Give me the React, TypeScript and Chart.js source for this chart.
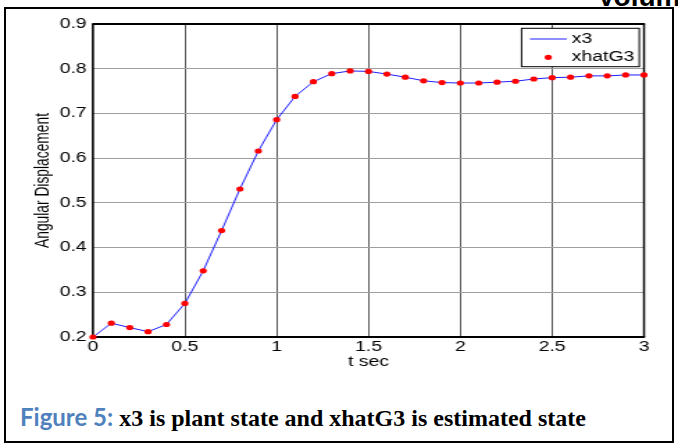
import React, { useEffect, useRef } from 'react';
import { Chart, registerables } from 'chart.js';

Chart.register(...registerables);

// ---- data ----
const timeSec = [0, 0.1, 0.2, 0.3, 0.4, 0.5, 0.6, 0.7, 0.8, 0.9, 1.0, 1.1, 1.2, 1.3, 1.4, 1.5, 1.6, 1.7, 1.8, 1.9, 2.0, 2.1, 2.2, 2.3, 2.4, 2.5, 2.6, 2.7, 2.8, 2.9, 3.0];
const x3Values = [0.200, 0.231, 0.221, 0.212, 0.228, 0.275, 0.348, 0.438, 0.531, 0.616, 0.686, 0.738, 0.771, 0.789, 0.795, 0.794, 0.788, 0.781, 0.773, 0.769, 0.768, 0.768, 0.770, 0.772, 0.777, 0.780, 0.781, 0.784, 0.784, 0.786, 0.786];
const xhatG3Values = [0.200, 0.231, 0.221, 0.212, 0.228, 0.275, 0.348, 0.438, 0.531, 0.616, 0.686, 0.738, 0.771, 0.789, 0.795, 0.794, 0.788, 0.781, 0.773, 0.769, 0.768, 0.768, 0.770, 0.772, 0.777, 0.780, 0.781, 0.784, 0.784, 0.786, 0.786];
const xTickValues = [0, 0.5, 1, 1.5, 2, 2.5, 3];
const xTickLabels = ['0', '0.5', '1', '1.5', '2', '2.5', '3'];
const yTickValues = [0.2, 0.3, 0.4, 0.5, 0.6, 0.7, 0.8, 0.9];
const yTickLabels = ['0.2', '0.3', '0.4', '0.5', '0.6', '0.7', '0.8', '0.9'];
const seriesNames = ['x3', 'xhatG3'];
const xTitle = 't sec';
const yTitle = 'Angular Displacement';

// ---- layout (the figure is stretched horizontally) ----
const K = 678 / 488;
const CW = 488;
const CH = 400;
const FONT = '"Liberation Sans", Arial, Helvetica, sans-serif';

const boxPlugin = {
  id: 'matlabBox',
  beforeDatasetsDraw(chart: any) {
    const { ctx, chartArea: a } = chart;
    ctx.save();
    ctx.strokeStyle = '#000';
    ctx.lineWidth = 2;
    ctx.beginPath();
    ctx.moveTo(a.left - 0.7, a.top);
    ctx.lineTo(a.right + 0.7, a.top);
    ctx.moveTo(a.left - 0.7, a.bottom);
    ctx.lineTo(a.right + 0.7, a.bottom);
    ctx.stroke();
    ctx.lineWidth = 1.45;
    ctx.beginPath();
    ctx.moveTo(a.left, a.top);
    ctx.lineTo(a.left, a.bottom);
    ctx.moveTo(a.right, a.top);
    ctx.lineTo(a.right, a.bottom);
    ctx.stroke();
    ctx.restore();
  },
  afterDraw(chart: any) {
    const { ctx, chartArea: a } = chart;
    const ds = chart.data.datasets;
    const right = a.right - 3.4;
    const left = right - 84.7;
    const top = a.top + 4.3;
    const h = 38.4;
    ctx.save();
    ctx.fillStyle = '#fff';
    ctx.fillRect(left, top, right - left, h);
    ctx.strokeStyle = '#000';
    ctx.lineWidth = 1;
    ctx.strokeRect(left, top, right - left, h);
    const rows = [top + 10.7, top + 29];
    ctx.font = `14px ${FONT}`;
    ctx.textBaseline = 'middle';
    ctx.textAlign = 'left';
    // row 1: line sample
    ctx.strokeStyle = ds[0].borderColor;
    ctx.lineWidth = 1;
    ctx.beginPath();
    ctx.moveTo(left + 6, rows[0]);
    ctx.lineTo(left + 32.5, rows[0]);
    ctx.stroke();
    ctx.fillStyle = '#000';
    ctx.fillText(ds[0].label, left + 36, rows[0]);
    // row 2: marker
    ctx.fillStyle = ds[1].pointBackgroundColor;
    ctx.beginPath();
    ctx.arc(left + 19.2, rows[1], ds[1].pointRadius, 0, Math.PI * 2);
    ctx.fill();
    ctx.fillStyle = '#000';
    ctx.fillText(ds[1].label, left + 36, rows[1]);
    ctx.restore();
  },
};

export default function App() {
  const ref = useRef<HTMLCanvasElement>(null);

  useEffect(() => {
    if (!ref.current) return;
    const chart = new Chart(ref.current, {
      type: 'line',
      data: {
        datasets: [
          {
            label: seriesNames[0],
            data: timeSec.map((t, i) => ({ x: t, y: x3Values[i] })),
            borderColor: 'rgb(30,30,255)',
            borderWidth: 1,
            pointRadius: 0,
            fill: false,
            tension: 0,
            clip: false as any,
            order: 1,
          },
          {
            label: seriesNames[1],
            data: timeSec.map((t, i) => ({ x: t, y: xhatG3Values[i] })),
            showLine: false,
            borderColor: 'rgb(255,0,0)',
            backgroundColor: 'rgb(255,0,0)',
            pointBackgroundColor: 'rgb(255,0,0)',
            pointBorderWidth: 0,
            pointRadius: 2.6,
            clip: false as any,
            order: 0,
          },
        ],
      },
      options: {
        responsive: false,
        animation: false,
        events: [],
        layout: { padding: { left: 0, right: CW - 644 / K, top: 24, bottom: 0 } },
        plugins: { legend: { display: false }, tooltip: { enabled: false } },
        scales: {
          x: {
            type: 'linear',
            min: 0,
            max: 3,
            afterFit: (s: any) => { s.height = CH - 337; },
            afterBuildTicks: (s: any) => { s.ticks = xTickValues.map((v) => ({ value: v })); },
            grid: { color: '#5a5a5a', lineWidth: 1, drawTicks: false },
            border: { display: false },
            ticks: {
              padding: 2,
              color: '#000',
              maxRotation: 0,
              autoSkip: false,
              font: { family: FONT, size: 14 },
              callback: (_v: any, i: number) => xTickLabels[i],
            },
            title: {
              display: true,
              text: xTitle,
              color: '#000',
              font: { family: FONT, size: 14 },
              padding: { top: 0, bottom: 29.5 },
            },
          },
          y: {
            type: 'linear',
            min: 0.2,
            max: 0.9,
            afterFit: (s: any) => { s.width = 93 / K; },
            afterBuildTicks: (s: any) => { s.ticks = yTickValues.map((v) => ({ value: v })); },
            grid: { color: '#a0a0a0', lineWidth: 1, drawTicks: false },
            border: { display: false },
            ticks: {
              padding: 4.6,
              color: '#000',
              autoSkip: false,
              font: { family: FONT, size: 14 },
              callback: (_v: any, i: number) => yTickLabels[i],
            },
            title: {
              display: true,
              text: yTitle,
              color: '#000',
              font: { family: FONT, size: 13.8 },
              padding: { top: 23.2, bottom: 0 },
            },
          },
        },
      },
      plugins: [boxPlugin],
    } as any);
    return () => chart.destroy();
  }, []);

  return (
    <div style={{ position: 'fixed', left: 0, top: 0, width: 678, height: 447, overflow: 'hidden', background: '#fff' }}>
      <div
        style={{
          position: 'absolute',
          left: 597,
          top: -17,
          fontFamily: FONT,
          fontWeight: 'bold',
          fontSize: 28,
          lineHeight: '28px',
          whiteSpace: 'nowrap',
          color: '#000',
        }}
      >
        Volume
      </div>
      <div
        style={{
          position: 'absolute',
          left: 4,
          top: 7,
          width: 670,
          height: 436,
          border: '2px solid #000',
          boxSizing: 'border-box',
        }}
      />
      <canvas
        ref={ref}
        width={CW}
        height={CH}
        style={{ position: 'absolute', left: 0, top: 0, transform: `scaleX(${K})`, transformOrigin: '0 0' }}
      />
      <div
        style={{
          position: 'absolute',
          left: 20,
          top: 405,
          lineHeight: '24px',
          whiteSpace: 'nowrap',
        }}
      >
        <span style={{ fontFamily: 'Lato, "Open Sans", sans-serif', fontWeight: 'bold', fontSize: 24, color: '#4f81bd' }}>Figure 5:</span>
        <span style={{ fontFamily: '"Liberation Serif", "Times New Roman", serif', fontWeight: 'bold', fontSize: 24, color: '#000' }}> x3 is plant state and xhatG3 is estimated state</span>
      </div>
    </div>
  );
}
